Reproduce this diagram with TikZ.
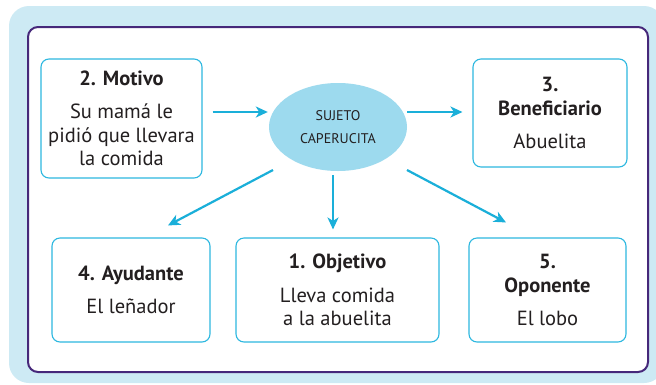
\documentclass[tikz,border=0pt]{standalone}
\usepackage{fontspec}
\setmainfont{PT Sans}
\usetikzlibrary{arrows.meta,shapes.geometric}
\definecolor{outerbg}{HTML}{CDEAF4}
\definecolor{purp}{HTML}{46287A}
\definecolor{cyanline}{HTML}{2DB8E0}
\definecolor{arrcol}{HTML}{1AAFD9}
\definecolor{ellfill}{HTML}{9DDAEE}
\definecolor{txt}{HTML}{231F20}
\tikzset{
  box/.style={draw=cyanline, line width=1.1pt, rounded corners=8pt, fill=white,
    align=center, inner sep=0pt, text=txt, font=\fontsize{20.5}{23.5}\selectfont},
  arr/.style={draw=arrcol, line width=2.2pt, -{Stealth[length=12pt,width=11pt,inset=3.5pt]}},
}
\begin{document}
\begin{tikzpicture}[x=1pt,y=-1pt]
\useasboundingbox (0,0) rectangle (656,384);
\fill[white] (0,0) rectangle (656,384);
\fill[outerbg, rounded corners=20pt] (9,6) rectangle (664,383);
\draw[purp, fill=white, line width=2pt, rounded corners=10pt] (28,27) rectangle (648,372);

\node[box, minimum width=161pt, minimum height=119pt] (motivo) at (121.5,118.5)
  {\textbf{2. Motivo}\\[10pt]Su mamá le\\pidió que llevara\\la comida};
\node[box, minimum width=154pt, minimum height=108pt] (ben) at (550,113)
  {\textbf{3.}\\\textbf{Beneficiario}\\[10pt]Abuelita};
\node[box, minimum width=158pt, minimum height=104pt] (ayu) at (131,290)
  {\textbf{4. Ayudante}\\[10pt]El leñador};
\node[box, minimum width=203pt, minimum height=104pt] (obj) at (337.5,290)
  {\textbf{1. Objetivo}\\[10pt]Lleva comida\\a la abuelita};
\node[box, minimum width=157pt, minimum height=104pt] (opo) at (547.5,290)
  {\textbf{5.}\\\textbf{Oponente}\\[10pt]El lobo};

\node[ellipse, fill=ellfill, minimum width=138pt, minimum height=88pt, inner sep=0pt,
  align=center, text=txt, font=\fontsize{14}{23}\selectfont] (ell) at (338,127)
  {SUJETO\\CAPERUCITA};

\draw[arr] ([xshift=10pt,yshift=6.5pt]motivo.east) -- ([xshift=-1pt,yshift=15pt]ell.west);
\draw[arr] ([yshift=15pt]ell.east) -- ([xshift=-10pt,yshift=1pt]ben.west);
\draw[arr] ([xshift=-65pt,yshift=-43pt]ell.center) -- ([xshift=37pt,yshift=12pt]ayu.north);
\draw[arr] ([xshift=-5pt,yshift=-48pt]ell.center) -- ([xshift=-4.5pt,yshift=8pt]obj.north);
\draw[arr] ([xshift=69pt,yshift=-43pt]ell.center) -- ([xshift=-41.5pt,yshift=15pt]opo.north);
\end{tikzpicture}
\end{document}
